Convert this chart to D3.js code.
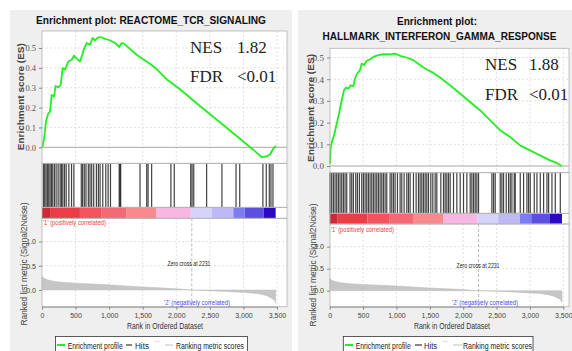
<!DOCTYPE html>
<html><head><meta charset="utf-8">
<script src="https://cdn.jsdelivr.net/npm/d3@7/dist/d3.min.js"></script>
<style>body{margin:0;background:#fff}svg{display:block}</style>
</head><body><svg id="c" width="572" height="351"></svg>
<script>
// ---------- DATA ----------
const rankTicks = [0, 500, 1000, 1500, 2000, 2500, 3000, 3500];
const esTicks = [0, 0.1, 0.2, 0.3, 0.4, 0.5];
const metricTicks = [0, 0.5, 1.0];
const zeroCross = 2231;

const tcrTitle = ["Enrichment plot: REACTOME_TCR_SIGNALING"];
const tcrStats = [["NES", "1.82"], ["FDR", "<0.01"]];
const tcrRank = [5,35,60,94,119,144,179,203,243,278,308,342,392,442,476,526,566,600,625,665,715,754,789,839,888,938,1012,1087,1151,1186,1221,1409,1608,1707,1856,2055,2352,2600,2849,2998,3146,3270,3345,3395,3444,3484];
const tcrES = [0,0.052,0.133,0.171,0.179,0.264,0.255,0.309,0.302,0.314,0.399,0.391,0.432,0.441,0.461,0.444,0.432,0.466,0.495,0.525,0.517,0.551,0.539,0.554,0.554,0.546,0.539,0.525,0.505,0.525,0.522,0.466,0.421,0.394,0.343,0.292,0.208,0.140,0.071,0.029,-0.012,-0.049,-0.046,-0.036,-0.007,0.007];
const tcrHits = [20,40,60,80,100,120,140,160,185,210,240,270,290,310,335,360,400,440,475,585,605,630,655,690,715,740,770,810,840,865,905,950,985,1020,1150,1162,1172,1460,1560,1580,1633,1920,1970,2215,2235,2260,2452,2680,2890,2945,3290,3340,3385,3410,3440];

const ifngTitle = ["Enrichment plot:", "HALLMARK_INTERFERON_GAMMA_RESPONSE"];
const ifngStats = [["NES", "1.88"], ["FDR", "<0.01"]];
const ifngRank = [5,15,40,65,105,145,180,215,245,280,315,355,380,405,455,479,514,554,604,654,729,804,904,979,1054,1154,1253,1353,1453,1553,1653,1803,1953,2102,2252,2402,2552,2702,2852,3001,3151,3301,3401,3476];
const ifngES = [0.011,0.088,0.118,0.142,0.195,0.249,0.303,0.349,0.362,0.357,0.372,0.368,0.403,0.423,0.442,0.472,0.465,0.485,0.491,0.503,0.511,0.515,0.514,0.518,0.508,0.500,0.488,0.465,0.445,0.429,0.408,0.372,0.334,0.295,0.257,0.211,0.165,0.134,0.095,0.072,0.049,0.026,0.014,0.0];
const ifngHits = [5,30,55,80,105,130,155,180,205,230,255,305,330,355,390,415,445,480,505,530,555,580,605,630,655,680,705,730,755,780,805,830,855,905,930,955,980,1015,1055,1080,1115,1155,1180,1205,1255,1295,1330,1355,1380,1405,1430,1455,1480,1515,1545,1580,1605,1665,1705,1730,1755,1780,1805,1855,1905,1955,2005,2055,2105,2130,2155,2180,2205,2230,2430,2455,2480,2555,2580,2605,2645,2680,2705,2730,2765,2780,2855,2905,2955,2980,3005,3065,3105,3155,3205,3255,3280,3330,3380,3455];

const metricRank = [0,30,80,170,300,500,750,1000,1250,1500,1750,2000,2231,2500,2750,3000,3150,3270,3350,3420,3460,3480];
const metricValue = [0.28,0.24,0.21,0.18,0.16,0.14,0.125,0.107,0.085,0.062,0.045,0.025,0,-0.015,-0.03,-0.05,-0.065,-0.09,-0.12,-0.17,-0.21,-0.26];

const barStart = [0,120,565,890,1260,1705,2215,2525,2850,3020,3300];
const barEnd = 3480;
const barColor = ["#cc2a36","#ea3d47","#f2535d","#f46a74","#f78a8c","#f8b6e2","#d5d3fa","#bdb9f5","#7d7cf1","#5d4ee2","#2b08c3"];

const legendLabels = ["Enrichment profile", "Hits", "", "Ranking metric scores"];
const legendColors = ["#22ee22", "#444444", "#e4e4e4", "#cfcfcf"];
const axisTitles = ["Enrichment score (ES)", "Ranked list metric (Signal2Noise)", "Rank in Ordered Dataset"];
const corrLabels = ["'1' (positively correlated)", "'2' (negatively correlated)", "Zero cross at 2231"];

// ---------- DRAW ----------
const svg = d3.select("#c");
const SANS = "'Liberation Sans', Arial, sans-serif";
const SERIF = "'Liberation Serif', 'Times New Roman', serif";

function addText(g, str, x, y, o) {
  const t = g.append("text").attr("x", x).attr("y", y).text(str)
    .attr("font-family", o.family || SANS).attr("font-size", o.size)
    .attr("fill", o.fill || "#333").attr("text-anchor", o.anchor || "start");
  if (o.weight) t.attr("font-weight", o.weight);
  if (o.len) t.attr("textLength", o.len).attr("lengthAdjust", "spacingAndGlyphs");
  if (o.rotate) t.attr("transform", `rotate(-90,${x},${y})`);
  return t;
}

function drawPanel(L, D) {
  const g = svg.append("g");
  g.append("rect").attr("x", L.bg[0]).attr("y", L.bg[1]).attr("width", L.bg[2]).attr("height", L.bg[3]).attr("fill", "#efefef");

  const x = d3.scaleLinear().domain([0, 3500]).range(L.xr);
  const yE = d3.scaleLinear().domain([0, 0.5]).range(L.er);
  const yM = d3.scaleLinear().domain([0, 1]).range(L.mr);
  const W = L.x1 - L.x0;

  // titles
  D.title.forEach((t, i) => addText(g, t, L.titles[i][0], L.titles[i][1], {size: L.titles[i][3], weight: "bold", anchor: "middle", fill: "#111", len: L.titles[i][2]}));

  // white plot backgrounds
  g.append("rect").attr("x", L.x0).attr("y", L.esTop).attr("width", W).attr("height", L.rankBot - L.esTop).attr("fill", "#fff");

  const grid = "#d9d9d9";
  rankTicks.slice(1).forEach(r => {
    g.append("line").attr("x1", x(r)).attr("x2", x(r)).attr("y1", L.esTop).attr("y2", L.esBot).attr("stroke", grid).attr("stroke-dasharray", "2,2").attr("stroke-width", 0.8);
    g.append("line").attr("x1", x(r)).attr("x2", x(r)).attr("y1", L.barBot).attr("y2", L.rankBot).attr("stroke", grid).attr("stroke-dasharray", "2,2").attr("stroke-width", 0.8);
  });
  esTicks.slice(1).forEach(v => g.append("line").attr("x1", L.x0).attr("x2", L.x1).attr("y1", yE(v)).attr("y2", yE(v)).attr("stroke", grid).attr("stroke-dasharray", "2,2").attr("stroke-width", 0.8));
  metricTicks.slice(1).forEach(v => g.append("line").attr("x1", L.x0).attr("x2", L.x1).attr("y1", yM(v)).attr("y2", yM(v)).attr("stroke", grid).attr("stroke-dasharray", "2,2").attr("stroke-width", 0.8));
  g.append("line").attr("x1", L.x0).attr("x2", L.x1).attr("y1", yE(0)).attr("y2", yE(0)).attr("stroke", "#a8a8a8").attr("stroke-width", 1);

  // ES curve
  const pts = D.rank.map((r, i) => [r, D.es[i]]);
  g.append("path").datum(pts).attr("fill", "none").attr("stroke", "#22ee22").attr("stroke-width", 1.8)
    .attr("stroke-linejoin", "round")
    .attr("d", d3.line().x(d => x(d[0])).y(d => yE(d[1])));

  // hits
  g.selectAll(null).data(D.hits).enter().append("line")
    .attr("x1", d => x(d)).attr("x2", d => x(d)).attr("y1", L.esBot).attr("y2", L.hitsBot)
    .attr("stroke", "#111").attr("stroke-opacity", 0.8).attr("stroke-width", 1.2);

  // color bar
  g.selectAll(null).data(barStart).enter().append("rect")
    .attr("x", d => x(d)).attr("y", L.hitsBot)
    .attr("width", (d, i) => x(i + 1 < barStart.length ? barStart[i + 1] : barEnd) - x(d))
    .attr("height", L.barBot - L.hitsBot)
    .attr("fill", (d, i) => barColor[i]);

  // ranked metric area
  const mpts = metricRank.map((r, i) => [r, metricValue[i]]);
  g.append("path").datum(mpts).attr("fill", "#c6c6c6").attr("stroke", "#bdbdbd").attr("stroke-width", 0.5)
    .attr("d", d3.area().x(d => x(d[0])).y0(yM(0)).y1(d => yM(d[1])));

  g.append("line").attr("x1", x(zeroCross)).attr("x2", x(zeroCross)).attr("y1", L.barBot).attr("y2", L.rankBot)
    .attr("stroke", "#aaa").attr("stroke-dasharray", "3,2").attr("stroke-width", 0.8);

  const fr = "#b4b4b4";
  [[L.esTop, L.esBot], [L.esBot, L.hitsBot], [L.hitsBot, L.barBot], [L.barBot, L.rankBot]].forEach(([a, b]) =>
    g.append("rect").attr("x", L.x0).attr("y", a).attr("width", W).attr("height", b - a).attr("fill", "none").attr("stroke", fr).attr("stroke-width", 0.8));

  const styleAxis = (ax, size) => {
    ax.select(".domain").attr("stroke", "#999");
    ax.selectAll(".tick line").attr("stroke", "#888");
    ax.selectAll(".tick text").attr("fill", "#444").attr("font-size", size).attr("font-family", SANS);
  };
  const axB = g.append("g").attr("transform", `translate(0,${L.rankBot})`)
    .call(d3.axisBottom(x).tickValues(rankTicks).tickFormat(d3.format(",")).tickSize(3).tickSizeOuter(0));
  styleAxis(axB, L.tickSize);
  const axE = g.append("g").attr("transform", `translate(${L.x0},0)`)
    .call(d3.axisLeft(yE).tickValues(esTicks).tickFormat(d3.format(".1f")).tickSize(3).tickSizeOuter(0));
  styleAxis(axE, L.esTickSize);
  axE.select(".domain").remove();
  axE.selectAll(".tick text").attr("font-family", SERIF).attr("fill", "#555");
  const axM = g.append("g").attr("transform", `translate(${L.x0},0)`)
    .call(d3.axisLeft(yM).tickValues(metricTicks).tickFormat(d3.format(".1f")).tickSize(3).tickSizeOuter(0));
  styleAxis(axM, L.tickSize);
  axM.select(".domain").remove();

  addText(g, axisTitles[0], L.esTitle[0], L.esTitle[1], {size: 9.5, weight: "bold", anchor: "middle", fill: "#444", rotate: true, len: L.esTitle[2]});
  addText(g, axisTitles[1], L.mTitle[0], L.mTitle[1], {size: 9.5, anchor: "middle", fill: "#444", rotate: true, len: L.mTitle[2]});
  addText(g, axisTitles[2], L.xTitle[0], L.xTitle[1], {size: 9, anchor: "middle", fill: "#333", len: 76});

  addText(g, corrLabels[0], L.x0 + 1, L.pos[1], {size: 7, fill: "#f04040", len: 63});
  addText(g, corrLabels[1], L.neg[0], L.neg[1], {size: 7, fill: "#4a4af0", anchor: "middle", len: 66});
  addText(g, corrLabels[2], L.zc[0], L.zc[1], {size: 6.5, fill: "#222", anchor: "middle", len: 43});

  D.stats.forEach((s, i) => {
    addText(g, s[0], L.nes[0], L.nes[2 + i], {size: 17, family: SERIF, fill: "#222"});
    addText(g, s[1], L.nes[1], L.nes[2 + i], {size: 17, family: SERIF, fill: "#222"});
  });

  const lg = L.leg;
  g.append("rect").attr("x", lg.box[0]).attr("y", 336.5).attr("width", lg.box[1] - lg.box[0]).attr("height", 20)
    .attr("fill", "#fff").attr("stroke", "#333").attr("stroke-width", 0.8);
  legendLabels.forEach((lab, i) => {
    const it = lg.items[i];
    g.append("line").attr("x1", it[0]).attr("x2", it[1]).attr("y1", i === 2 ? 341.5 : 345).attr("y2", i === 2 ? 341.5 : 345)
      .attr("stroke", legendColors[i]).attr("stroke-width", i === 0 ? 2 : 1.3);
    if (lab) addText(g, lab, it[2], 348.5, {size: 8.5, fill: "#222", len: it[3]});
  });
}

drawPanel({
  bg: [10, 10, 282, 341], x0: 42, x1: 287, xr: [42, 277],
  esTop: 31, esBot: 163.3, hitsBot: 207.3, barBot: 218.3, rankBot: 306.7,
  er: [147.3, 48], mr: [290, 241.5], tickSize: 7, esTickSize: 8.5,
  titles: [[151, 24, 230, 10]],
  esTitle: [24.5, 96.7, 107], mTitle: [26.5, 264, 123], xTitle: [165, 329],
  pos: [0, 225], neg: [197, 305], zc: [189, 266],
  nes: [190, 237, 53, 82],
  leg: {box: [55.5, 247.5], items: [[57, 65, 67.7, 55], [126, 132, 135, 14], [154, 160, 0, 0], [165, 173, 176, 68]]}
}, {title: tcrTitle, stats: tcrStats, rank: tcrRank, es: tcrES, hits: tcrHits});

drawPanel({
  bg: [298, 10, 274, 341], x0: 330, x1: 569, xr: [329.7, 563.3],
  esTop: 48.3, esBot: 172.7, hitsBot: 213.3, barBot: 224, rankBot: 306.7,
  er: [166, 57.5], mr: [290.7, 246.7], tickSize: 7, esTickSize: 9,
  titles: [[437, 25, 80, 10], [439.5, 39.5, 234, 10]],
  esTitle: [313.5, 108, 108], mTitle: [315.5, 265, 123], xTitle: [452, 329],
  pos: [0, 231.5], neg: [485, 305], zc: [478, 268],
  nes: [485, 529, 70, 100],
  leg: {box: [343.3, 533], items: [[345, 353, 355.7, 55], [415, 422, 424, 13], [442, 448, 0, 0], [453, 462, 463, 69]]}
}, {title: ifngTitle, stats: ifngStats, rank: ifngRank, es: ifngES, hits: ifngHits});
</script>
</body></html>
